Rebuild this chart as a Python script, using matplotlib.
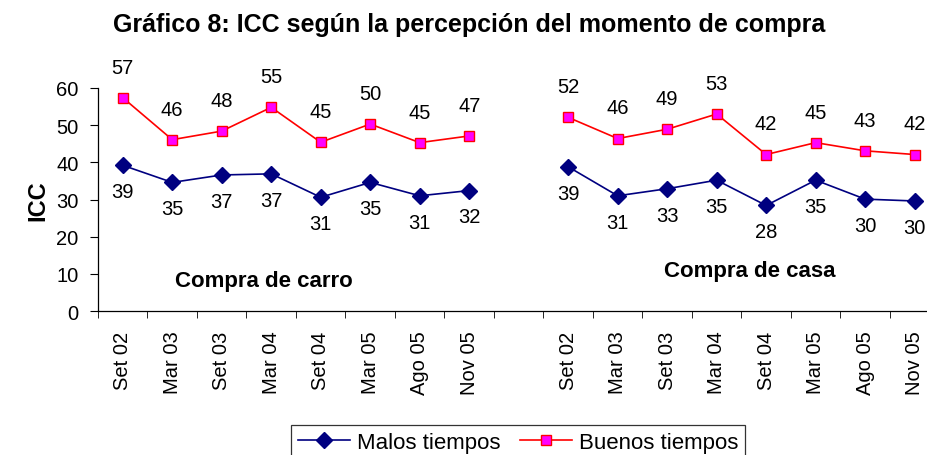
"""Gráfico 8: ICC según la percepción del momento de compra."""

import matplotlib

matplotlib.use("Agg")
import matplotlib.pyplot as plt
import numpy as np

plt.rcParams["font.family"] = ["Liberation Sans", "DejaVu Sans"]

periods = ["Set 02", "Mar 03", "Set 03", "Mar 04", "Set 04", "Mar 05", "Ago 05", "Nov 05"]

# Compra de carro
carro_malos = [39.2, 34.6, 36.6, 36.9, 30.6, 34.6, 31.0, 32.4]
carro_buenos = [57.4, 46.1, 48.4, 54.8, 45.4, 50.3, 45.3, 47.1]

# Compra de casa
casa_malos = [38.8, 31.0, 32.9, 35.2, 28.4, 35.2, 30.1, 29.6]
casa_buenos = [52.1, 46.4, 48.9, 53.0, 42.1, 45.3, 43.1, 42.1]

groups = ["Compra de carro", "Compra de casa"]

NAVY = "#000080"
RED = "#FF0000"
MAGENTA = "#FF00FF"

fig = plt.figure(figsize=(9.27, 4.56), dpi=100)
ax = fig.add_axes([98 / 927, 1 - 312 / 456, 1 - 98 / 927, (312 - 89) / 456])

n = len(periods)
x_carro = np.arange(n)
x_casa = np.arange(n) + n + 1

for i, (xs, malos, buenos) in enumerate([(x_carro, carro_malos, carro_buenos),
                                          (x_casa, casa_malos, casa_buenos)]):
    ax.plot(xs, malos, color=NAVY, lw=1.2, marker="D", ms=8, mfc=NAVY, mec=NAVY,
            label="Malos tiempos" if i == 0 else None)
    ax.plot(xs, buenos, color=RED, lw=1.2, marker="s", ms=7.5, mfc=MAGENTA, mec=RED,
            label="Buenos tiempos" if i == 0 else None)
    for x, v in zip(xs, malos):
        ax.annotate(f"{v:.0f}", (x, v), xytext=(0, -19), textcoords="offset points",
                    ha="center", va="center", fontsize=14.5)
    for x, v in zip(xs, buenos):
        ax.annotate(f"{v:.0f}", (x, v), xytext=(0, 22), textcoords="offset points",
                    ha="center", va="center", fontsize=14.5)

ax.text(2.85, 8.3, groups[0], ha="center", va="center", fontsize=16, fontweight="bold")
ax.text(12.66, 10.8, groups[1], ha="center", va="center", fontsize=16, fontweight="bold")

ax.set_xlim(-0.5, 16.25)
ax.set_ylim(0, 60)
ax.set_yticks(range(0, 61, 10))
ax.tick_params(axis="y", labelsize=14.5, length=6, pad=8)

ax.set_xticks(list(x_carro) + list(x_casa))
ax.set_xticklabels(periods + periods, rotation=90, fontsize=14.5)
ax.tick_params(axis="x", which="major", length=0, pad=14)
ax.set_xticks(np.arange(-0.5, 16.0, 1.0), minor=True)
ax.tick_params(axis="x", which="minor", length=5, direction="out")

for side in ["top", "right"]:
    ax.spines[side].set_visible(False)
ax.spines["left"].set_linewidth(0.9)
ax.spines["bottom"].set_linewidth(0.9)

ax.set_ylabel("ICC", fontsize=17, fontweight="bold", labelpad=5)

fig.text(469 / 927, 1 - 25 / 456, "Gráfico 8: ICC según la percepción del momento de compra",
         ha="center", va="center", fontsize=18, fontweight="bold")

leg = fig.legend(loc="upper center", bbox_to_anchor=(518 / 927, 1 - 426 / 456), ncol=2,
                 fontsize=16, frameon=True, fancybox=False, edgecolor="black",
                 handlelength=2.35, handletextpad=0.3, columnspacing=0.9,
                 borderpad=0.3, borderaxespad=0.0)
leg.get_frame().set_linewidth(0.9)

fig.savefig("out.png", dpi=100)
